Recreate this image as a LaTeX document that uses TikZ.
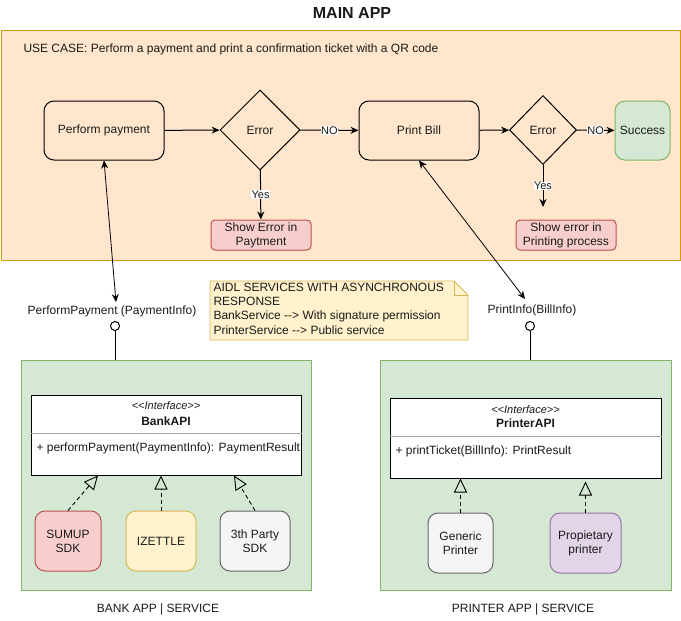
\documentclass[tikz,border=0pt]{standalone}
\usepackage{fontspec}
\setmainfont{Liberation Sans}[Ligatures=TeXOff]
\usetikzlibrary{shapes.geometric,arrows.meta}
\definecolor{orfill}{HTML}{FFE6CC}
\definecolor{ordraw}{HTML}{D79B00}
\definecolor{grfill}{HTML}{D5E8D4}
\definecolor{grdraw}{HTML}{82B366}
\definecolor{rdfill}{HTML}{F8CECC}
\definecolor{rddraw}{HTML}{B85450}
\definecolor{ylfill}{HTML}{FFF2CC}
\definecolor{yldraw}{HTML}{D6B656}
\definecolor{gyfill}{HTML}{F5F5F5}
\definecolor{gydraw}{HTML}{666666}
\definecolor{pufill}{HTML}{E1D5E7}
\definecolor{pudraw}{HTML}{9673A6}
\definecolor{txtc}{HTML}{1A1A1A}
\begin{document}
\begin{tikzpicture}[x=1pt,y=-1pt,line width=1pt,
  every node/.style={font=\fontsize{12}{14}\selectfont, text=txtc},
  txt/.style={inner sep=0pt},
  region/.style={draw, rectangle, inner sep=0pt},
  proc/.style={draw, rounded corners=10pt, minimum width=120pt, minimum height=59pt, inner sep=0pt},
  dec/.style={draw, diamond, inner sep=0pt},
  errbox/.style={draw=rddraw, fill=rdfill, rounded corners=4pt, minimum width=100pt, minimum height=30pt, inner sep=0pt, align=center},
  impl/.style={draw, rounded corners=10pt, inner sep=0pt, align=center},
  classbox/.style={draw, fill=white, rectangle, inner sep=0pt},
  flow/.style={-{Stealth[length=8pt,width=7pt]}},
  both/.style={{Stealth[length=8pt,width=7pt]}-{Stealth[length=8pt,width=7pt]}, line width=0.8pt},
  realize/.style={-{Triangle[open,length=14pt,width=13pt,line width=0.9pt]}, dash pattern=on 4pt off 3pt, line width=0.9pt},
  lbl/.style={fill=white, inner sep=0.5pt, font=\fontsize{11}{12}\selectfont},
  lolli/.style={draw, circle, fill=white, minimum size=9pt, inner sep=0pt}
]
\useasboundingbox (0,0) rectangle (681,621);

% title
\node[txt, font=\bfseries\fontsize{16}{19}\selectfont] (title) at (352,13) {MAIN APP};

% main app region
\node[region, fill=orfill, draw=ordraw, minimum width=679pt, minimum height=230pt] (main) at (340.5,145) {};
\node[txt, anchor=west] (uc) at (23,49) {USE CASE: Perform a payment and print a confirmation ticket with a QR code};

% flow
\node[proc] (ppay) at (104,130.5) {Perform payment};
\node[dec, minimum width=80pt, minimum height=80pt] (d1) at (260,130) {Error};
\node[proc] (pbill) at (419,130.5) {Print Bill};
\node[dec, minimum width=67pt, minimum height=69pt] (d2) at (543,130) {Error};
\node[draw=grdraw, fill=grfill, rounded corners=10pt, minimum width=55pt, minimum height=59pt, inner sep=0pt] (succ) at (642.5,130.5) {Success};
\node[errbox] (err1) at (261,235) {Show Error in\\Paytment};
\node[errbox] (err2) at (566,235) {Show error in\\Printing process};
\coordinate (y2end) at (543,207);

\draw[flow] (ppay) -- (d1);
\draw[flow] (d1) -- node[lbl]{NO} (pbill);
\draw[flow] (pbill) -- (d2);
\draw[flow] (d2) -- node[lbl]{NO} (succ);
\draw[flow] (d1) -- node[lbl]{Yes} (err1);
\draw[flow] (d2) -- node[lbl]{Yes} (y2end);

% note
\draw[draw=yldraw, fill=ylfill, line width=0.8pt] (210,281) -- (454,281) -- (468,295) -- (468,340) -- (210,340) -- cycle;
\draw[draw=yldraw, line width=0.8pt] (454,281) -- (454,295) -- (468,295);
\node[txt, anchor=north west, align=left, font=\fontsize{12}{14.3}\selectfont] (note) at (213,282.5) {AIDL SERVICES WITH ASYNCHRONOUS\\RESPONSE\\BankService --> With signature permission\\PrinterService --> Public service};

% interface labels
\node[txt] (ppl) at (112,311) {PerformPayment (PaymentInfo)};
\node[txt] (pil) at (532,310) {PrintInfo(BillInfo)};
\coordinate (ppend) at (116,302);
\coordinate (pbend) at (525,299);
\draw[both] (ppay.south) -- (ppend);
\draw[both] (pbill.south) -- (pbend);

% regions
\node[region, fill=grfill, draw=grdraw, minimum width=290pt, minimum height=230pt] (bank) at (166,475) {};
\node[region, fill=grfill, draw=grdraw, minimum width=291pt, minimum height=230pt] (printer) at (525.5,475) {};
\node[lolli] (c1) at (115,326) {};
\node[lolli] (c2) at (530,326) {};
\draw[line width=0.8pt] (c1.south) -- (c1.south |- bank.north);
\draw[line width=0.8pt] (c2.south) -- (c2.south |- printer.north);

% BankAPI class
\node[classbox, minimum width=270pt, minimum height=80pt] (bankapi) at (166,435) {};
\draw[draw=gray!70, line width=0.8pt] ([yshift=-39pt]bankapi.north west) -- ([yshift=-39pt]bankapi.north east);
\node[txt, font=\itshape\fontsize{11}{12}\selectfont] (bst) at (166,406) {<<Interface>>};
\node[txt, font=\bfseries\fontsize{12}{14}\selectfont] (bname) at (166,421) {BankAPI};
\node[txt, anchor=west] (bmeth) at (36,448) {+ performPayment(PaymentInfo): PaymentResult};

% PrinterAPI class
\node[classbox, minimum width=271pt, minimum height=80pt] (printerapi) at (525.5,438) {};
\draw[draw=gray!70, line width=0.8pt] ([yshift=-39pt]printerapi.north west) -- ([yshift=-39pt]printerapi.north east);
\node[txt, font=\itshape\fontsize{11}{12}\selectfont] (pst) at (525.5,410) {<<Interface>>};
\node[txt, font=\bfseries\fontsize{12}{14}\selectfont] (pname) at (525.5,423.5) {PrinterAPI};
\node[txt, anchor=west] (pmeth) at (395,451) {+ printTicket(BillInfo): PrintResult};

% implementations
\node[impl, draw=rddraw, fill=rdfill, minimum width=66pt, minimum height=60pt] (sumup) at (68,541) {SUMUP\\SDK};
\node[impl, draw=yldraw, fill=ylfill, minimum width=70pt, minimum height=60pt] (izettle) at (161,541) {IZETTLE};
\node[impl, draw=gydraw, fill=gyfill, minimum width=70pt, minimum height=60pt] (third) at (255,541) {3th Party\\SDK};
\node[impl, draw=gydraw, fill=gyfill, minimum width=65pt, minimum height=60pt] (generic) at (460.5,543) {Generic\\Printer};
\node[impl, draw=pudraw, fill=pufill, minimum width=71pt, minimum height=60pt] (propr) at (585.5,543) {Propietary\\printer};

\draw[realize] (sumup.north) -- ([xshift=-68pt]bankapi.south);
\draw[realize] (izettle.north) -- (izettle.north |- bankapi.south);
\draw[realize] (third.north) -- ([xshift=68pt]bankapi.south);
\draw[realize] (generic.north) -- (generic.north |- printerapi.south);
\draw[realize] (propr.north) -- ([yshift=-3pt]propr.north |- printerapi.south);

% region labels
\node[txt] (banklbl) at (158,609) {BANK APP | SERVICE};
\node[txt] (printlbl) at (523,609) {PRINTER APP | SERVICE};
\end{tikzpicture}
\end{document}
